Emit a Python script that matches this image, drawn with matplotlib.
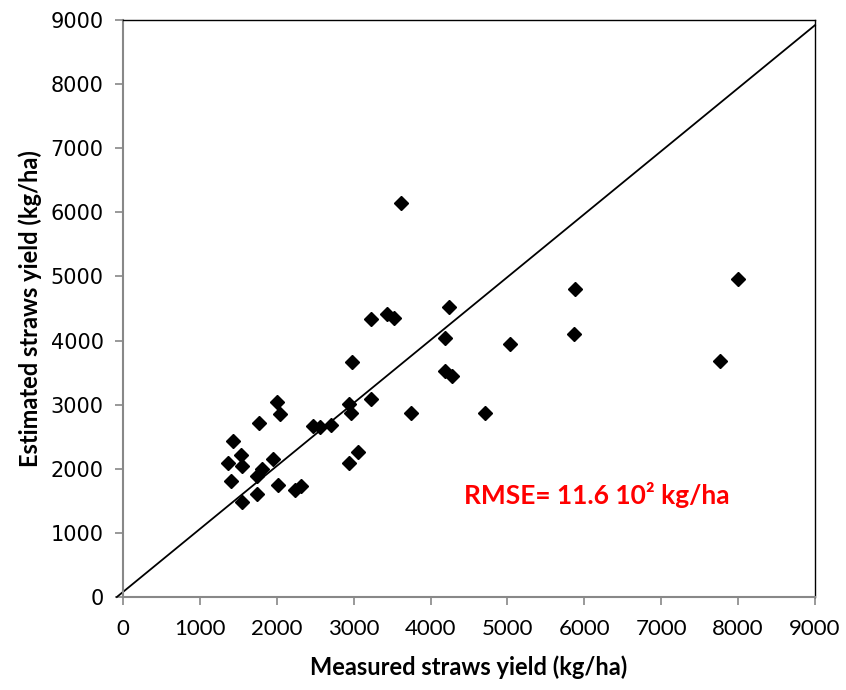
import matplotlib
matplotlib.use('Agg')
import matplotlib.pyplot as plt

# measured vs estimated straws yield (kg/ha)
measured = [1360, 1435, 1405, 1535, 1545, 1547, 1765, 1738, 1803, 1737,
            1955, 2007, 2040, 2020, 2237, 2310, 2475, 2560, 2710, 2940,
            2970, 2940, 3060, 2980, 3220, 3220, 3437, 3530, 3620, 3750,
            4190, 4240, 4190, 4285, 4707, 5030, 5870, 5880, 7763, 7997]
estimated = [2095, 2440, 1815, 2215, 2050, 1480, 2710, 1890, 1990, 1600,
             2150, 3040, 2850, 1740, 1670, 1730, 2670, 2650, 2680, 3010,
             2865, 2095, 2265, 3670, 3090, 4340, 4415, 4350, 6140, 2875,
             4045, 4530, 3530, 3450, 2865, 3940, 4110, 4805, 3680, 4960]

# reference line as drawn in the original
line_x = [-80, 9000]
line_y = [0, 8920]

ticks = [0, 1000, 2000, 3000, 4000, 5000, 6000, 7000, 8000, 9000]

plt.rcParams['font.family'] = ['Lato', 'DejaVu Sans']

fig = plt.figure(figsize=(8.46, 6.90), dpi=100)
ax = fig.add_axes([0.1454, 0.1348, 0.818, 0.8362])

ax.plot(line_x, line_y, color='black', linewidth=1.3, clip_on=False)
ax.plot(measured, estimated, linestyle='none', marker='D', markersize=7.5,
        color='black')

ax.set_xlim(0, 9000)
ax.set_ylim(0, 9000)
ax.set_xticks(ticks)
ax.set_yticks(ticks)
ax.tick_params(direction='out', length=6, width=1.2, color='#888888', pad=8)
ax.tick_params(axis='x', labelsize=16, pad=10)
for lab in ax.get_yticklabels():
    lab.set_fontfamily('DejaVu Sans')
    lab.set_fontsize(15)

for side in ['left', 'bottom']:
    ax.spines[side].set_color('#888888')
    ax.spines[side].set_linewidth(1.5)
for side in ['top', 'right']:
    ax.spines[side].set_color('black')
    ax.spines[side].set_linewidth(1.0)

ax.set_xlabel('Measured straws yield (kg/ha)', fontsize=17, fontweight='bold',
              labelpad=12)
ax.set_ylabel('Estimated straws yield (kg/ha)', fontsize=17, fontweight='bold',
              labelpad=6)

ax.text(6165, 1590, 'RMSE= 11.6 10² kg/ha', color='red', fontsize=19,
        fontweight='bold', ha='center', va='center')

fig.savefig('out.png', dpi=100)
